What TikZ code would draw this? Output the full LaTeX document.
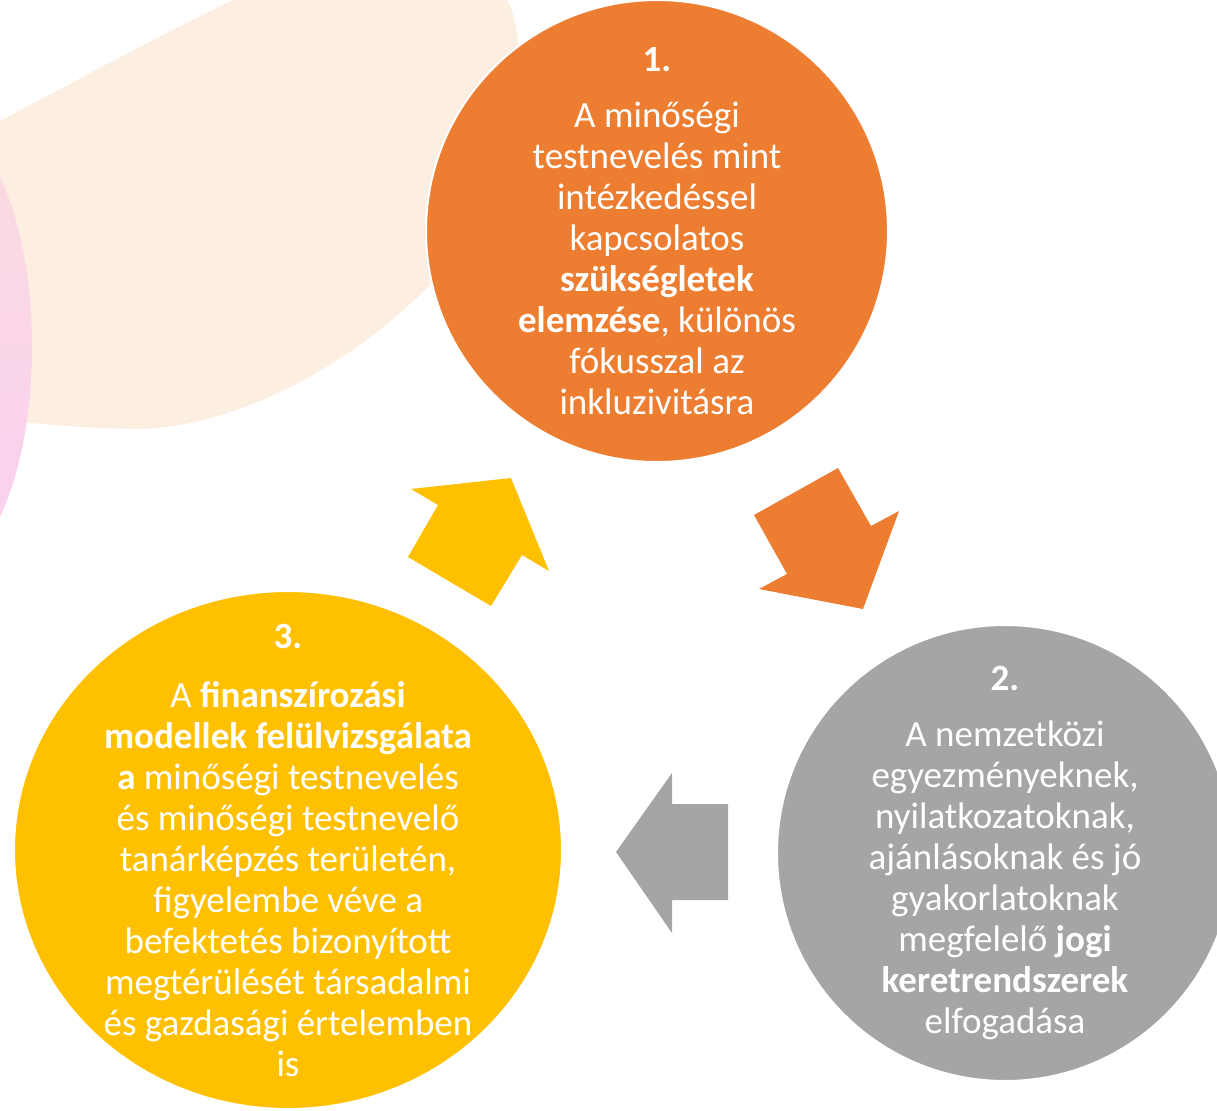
\documentclass[tikz,border=0pt]{standalone}
\usepackage{fontspec}
\setmainfont{Carlito}
\usetikzlibrary{shapes.geometric}
\definecolor{orangeA}{HTML}{ED7D31}
\definecolor{greyA}{HTML}{A5A5A5}
\definecolor{yellowA}{HTML}{FFC000}
\definecolor{peach}{HTML}{FDEEE2}
\definecolor{pinkA}{HTML}{FBDBE0}
\definecolor{pinkB}{HTML}{F8D0F0}
\begin{document}
\begin{tikzpicture}[x=.5pt,y=-.5pt,font=\fontsize{18.5}{20.5}\selectfont]
 \tikzset{disc/.style={circle,draw=white,line width=1pt,inner sep=0pt},
 blob/.style={ellipse,draw=white,line width=1pt,inner sep=0pt},
 txt/.style={text=white,align=center,inner sep=0pt}
 }
 \useasboundingbox (0,0) rectangle (1217,1110);
 \clip (0,0) rectangle (1217,1110);
 % background
 \fill[peach] (-60,153) .. controls (40,100) and (150,40) .. (233,0)
  .. controls (300,-35) and (470,-45) .. (507,0) .. controls (530,40) and (520,160) .. (480,225)
  .. controls (400,340) and (250,430) .. (133,429) .. controls (80,428) and (40,424) .. (0,420) -- (-60,415) -- cycle;
 \shade[top color=pinkA,bottom color=pinkB] (-60,347) ellipse [x radius=92,y radius=224];
 % arrows
 \fill[yellowA] (411,489)--(511,478)--(549,571)--(522,555)--(491,606)--(408,557)--(438,505)--cycle;
 \fill[orangeA] (754,515)--(838,468)--(871,526)--(899,511)--(863,609)--(759,589)--(787,574)--cycle;
 \fill[greyA] (728,804)--(672,804)--(672,773)--(616,852)--(672,933)--(672,900)--(728,900)--cycle;
 % circles
 \node[disc,fill=orangeA,minimum size=231pt] (c1) at (657,231) {};
 \node[disc,fill=greyA,minimum size=228pt] (c2) at (1005,853) {};
 \node[blob,fill=yellowA,minimum width=274pt,minimum height=259pt] (c3) at (288,850) {};
 \node[txt] (t1) at (c1) {\textbf{1.}\\[7.5pt] A minőségi\\ testnevelés mint\\ intézkedéssel\\ kapcsolatos\\ \textbf{szükségletek}\\ \textbf{elemzése}, különös\\ fókusszal az\\ inkluzivitásra};
 \node[txt] (t2) at (c2) {\textbf{2.}\\[7.5pt] A nemzetközi\\ egyezményeknek,\\ nyilatkozatoknak,\\ ajánlásoknak és jó\\ gyakorlatoknak\\ megfelelő \textbf{jogi}\\ \textbf{keretrendszerek}\\ elfogadása};
 \node[txt] (t3) at (c3) {\textbf{3.}\\[9pt] A \textbf{finanszírozási}\\ \textbf{modellek felülvizsgálata}\\ \textbf{a} minőségi testnevelés\\ és minőségi testnevelő\\ tanárképzés területén,\\ figyelembe véve a\\ befektetés bizonyított\\ megtérülését társadalmi\\ és gazdasági értelemben\\ is};
\end{tikzpicture}
\end{document}
